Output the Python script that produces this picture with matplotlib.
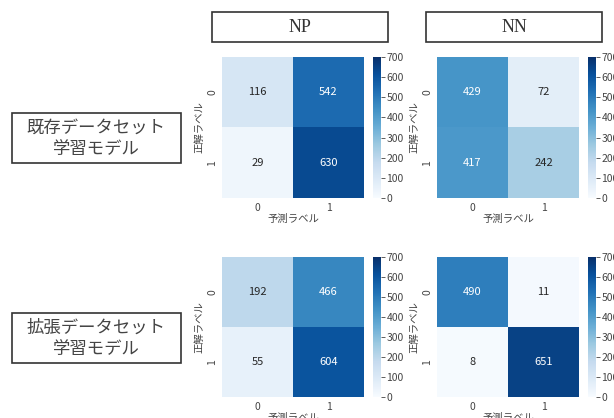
import numpy as np
import matplotlib
matplotlib.use("Agg")
import matplotlib.pyplot as plt
import seaborn as sns
from matplotlib.patches import Rectangle

plt.rcParams['font.family'] = ['Noto Sans CJK JP', 'DejaVu Sans']

# データ
col_titles = ["NP", "NN"]
row_titles = ["既存データセット\n学習モデル", "拡張データセット\n学習モデル"]
labels = ["0", "1"]
cm_np_old = [[116, 542], [29, 630]]
cm_nn_old = [[429, 72], [417, 242]]
cm_np_new = [[192, 466], [55, 604]]
cm_nn_new = [[490, 11], [8, 651]]
matrices = [[cm_np_old, cm_nn_old], [cm_np_new, cm_nn_new]]

fig = plt.figure(figsize=(6.14, 4.18), dpi=100)

W, H = 614, 418

def fx(px):
    return px / W

def fy(py):
    return 1 - py / H

heat_x = [222, 437]
cbar_x = [373, 588]
heat_y = [(57, 198), (257, 397)]

for r in range(2):
    for c in range(2):
        top, bot = heat_y[r]
        ax = fig.add_axes([fx(heat_x[c]), fy(bot), fx(142), (bot - top) / H])
        cax = fig.add_axes([fx(cbar_x[c]), fy(bot), fx(8), (bot - top) / H])
        sns.heatmap(np.array(matrices[r][c]), annot=True, fmt="d", cmap="Blues",
                    vmin=0, vmax=700, ax=ax, cbar_ax=cax,
                    xticklabels=labels, yticklabels=labels,
                    annot_kws={"fontsize": 8})
        ax.set_xlabel("予測ラベル", fontsize=7.5, color="#444444", labelpad=1)
        ax.set_ylabel("正解ラベル", fontsize=7.5, color="#444444", labelpad=2)
        ax.tick_params(axis="both", labelsize=7.5, length=0, colors="#444444")
        ax.set_yticklabels(labels, rotation=90, va="center")
        cax.tick_params(labelsize=7.5, length=3, width=0.6, colors="#444444", pad=1)
        cax.set_yticks(range(0, 701, 100))

# 列タイトル
for c, (x0, x1) in enumerate([(212, 388), (426, 602)]):
    fig.patches.append(Rectangle((fx(x0), fy(42)), fx(x1 - x0), (42 - 12) / H,
                                 transform=fig.transFigure, fill=False,
                                 edgecolor="#333333", linewidth=1.2))
    fig.text(fx((x0 + x1) / 2), fy(27), col_titles[c], ha="center", va="center",
             fontsize=13, family="Liberation Serif", color="#333333")

# 行タイトル
for r, (y0, y1) in enumerate([(113, 163), (313, 363)]):
    fig.patches.append(Rectangle((fx(12), fy(y1)), fx(169), (y1 - y0) / H,
                                 transform=fig.transFigure, fill=False,
                                 edgecolor="#333333", linewidth=1.2))
    fig.text(fx(96), fy((y0 + y1) / 2), row_titles[r], ha="center", va="center",
             fontsize=12.5, color="#444444", linespacing=1.25)

fig.savefig("out.png", dpi=100)
